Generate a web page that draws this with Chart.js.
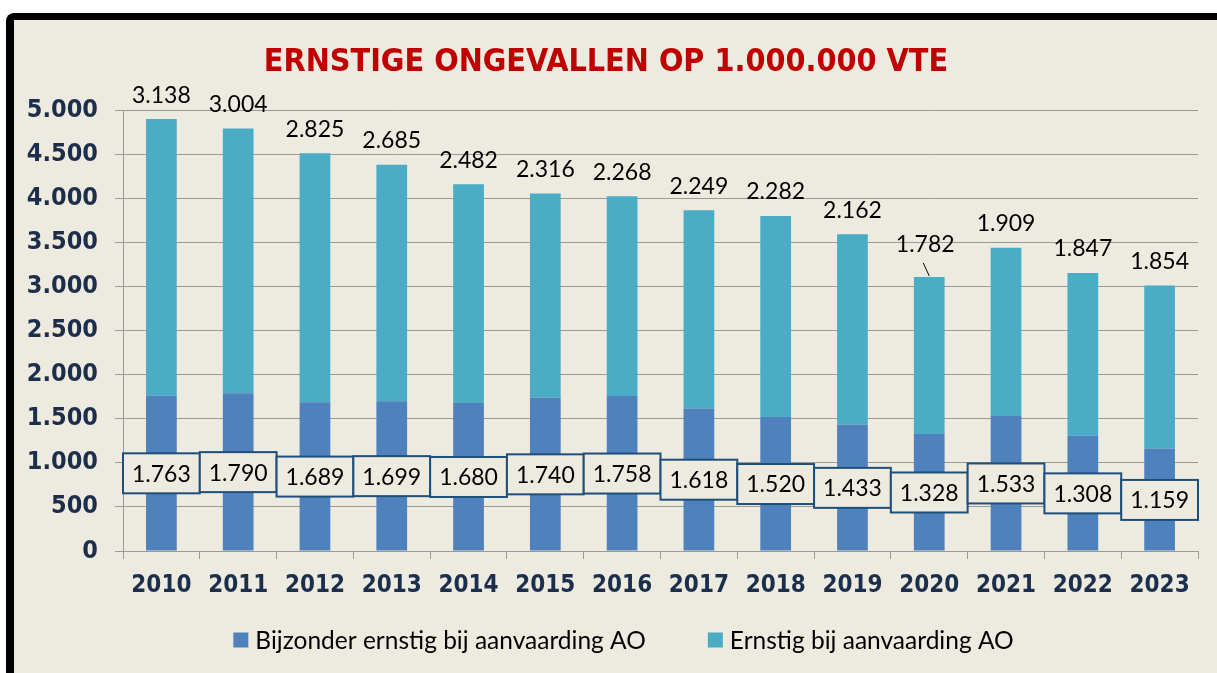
<!DOCTYPE html>
<html>
<head>
<meta charset="utf-8">
<script src="https://cdn.jsdelivr.net/npm/chart.js@4.4.1/dist/chart.umd.min.js"></script>
<style>
  html, body { margin: 0; padding: 0; background: #fff; }
  #frame {
    position: absolute; left: 6px; top: 13px;
    width: 1203px; height: 653px;
    border-top: 7px solid #000; border-left: 8px solid #000;
    border-top-left-radius: 8px;
    background: #EDEAE0;
  }
  #chart { display: block; }
</style>
</head>
<body>
<div id="frame"><canvas id="chart" width="1203" height="653"></canvas></div>
<script>
// data
const years = ['2010', '2011', '2012', '2013', '2014', '2015', '2016', '2017', '2018', '2019', '2020', '2021', '2022', '2023'];
const bijzonderErnstig = [1763, 1790, 1689, 1699, 1680, 1740, 1758, 1618, 1520, 1433, 1328, 1533, 1308, 1159];
const ernstig = [3138, 3004, 2825, 2685, 2482, 2316, 2268, 2249, 2282, 2162, 1782, 1909, 1847, 1854];
const yTicks = [0, 500, 1000, 1500, 2000, 2500, 3000, 3500, 4000, 4500, 5000];

const BG = '#EDEAE0';
const NAVY = '#1B2F4D';
const AXIS_FONT = "'DejaVu Sans Condensed', 'DejaVu Sans'";

function fmt(v) {
    return String(v).replace(/\B(?=(\d{3})+(?!\d))/g, '.');
}

const valueLabels = {
    id: 'valueLabels',
    afterDatasetsDraw(chart) {
        const c = chart.ctx;
        const yScale = chart.scales.y;
        const xScale = chart.scales.x;
        const catW = xScale.width / years.length;
        c.save();
        c.font = '23px Lato';
        c.textAlign = 'center';
        c.textBaseline = 'middle';

        // boxed labels for the bottom series, centred in the bar
        chart.getDatasetMeta(0).data.forEach((bar, i) => {
            const v = bijzonderErnstig[i];
            const yc = yScale.getPixelForValue(v / 2);
            const w = catW, h = 40;
            c.fillStyle = BG;
            c.fillRect(bar.x - w / 2, yc - h / 2, w, h);
            c.strokeStyle = '#1F4E79';
            c.lineWidth = 2;
            c.strokeRect(bar.x - w / 2, yc - h / 2, w, h);
            c.fillStyle = '#000';
            c.fillText(fmt(v), bar.x, yc + 1);
        });

        // plain labels above the stacked bars
        chart.getDatasetMeta(1).data.forEach((bar, i) => {
            c.fillStyle = '#000';
            if (years[i] === '2020') {
                // this one was dragged up in the original, with a leader line
                c.strokeStyle = '#000';
                c.lineWidth = 1;
                c.beginPath();
                c.moveTo(bar.x, bar.y - 1);
                c.lineTo(bar.x - 6, bar.y - 14);
                c.stroke();
                c.fillText(fmt(ernstig[i]), bar.x - 4, bar.y - 32);
            } else {
                c.fillText(fmt(ernstig[i]), bar.x, bar.y - 24);
            }
        });
        c.restore();
    }
};

// legend drawn by hand so the gap between the two entries can be wide
const bottomLegend = {
    id: 'bottomLegend',
    afterDraw(chart) {
        const c = chart.ctx;
        const items = chart.data.datasets.map(ds => ({ text: ds.label, color: ds.backgroundColor }));
        const box = 15, gapText = 7, gapItem = 62;
        c.save();
        c.font = '24.5px Lato';
        c.textBaseline = 'middle';
        const widths = items.map(it => box + gapText + c.measureText(it.text).width);
        const total = widths.reduce((a, b) => a + b, 0) + gapItem * (items.length - 1);
        let x = chart.width / 2 + 8 - total / 2;
        const y = chart.height - 33;
        items.forEach((it, i) => {
            c.fillStyle = it.color;
            c.fillRect(x, y - box / 2, box, box);
            c.fillStyle = '#000';
            c.fillText(it.text, x + box + gapText, y + 1);
            x += widths[i] + gapItem;
        });
        c.restore();
    }
};

const ctx = document.getElementById('chart').getContext('2d');

new Chart(ctx, {
    type: 'bar',
    data: {
        labels: years,
        datasets: [{
            label: 'Bijzonder ernstig bij aanvaarding AO',
            data: bijzonderErnstig,
            backgroundColor: '#4F81BD'
        }, {
            label: 'Ernstig bij aanvaarding AO',
            data: ernstig,
            backgroundColor: '#4BACC6'
        }]
    },
    options: {
        responsive: false,
        animation: false,
        layout: { padding: { left: 0, right: 19, bottom: 55 } },
        datasets: { bar: { categoryPercentage: 1, barPercentage: 0.4 } },
        scales: {
            x: {
                stacked: true,
                afterFit: s => { s.height = 67; },
                grid: { drawOnChartArea: false, drawTicks: true, tickLength: 8, color: '#999' },
                border: { color: '#999' },
                ticks: {
                    padding: 12,
                    color: NAVY,
                    font: { family: AXIS_FONT, size: 24, weight: 'bold' }
                }
            },
            y: {
                stacked: true,
                min: 0,
                max: 5000,
                afterFit: s => { s.width = 109; },
                afterBuildTicks: s => { s.ticks = yTicks.map(v => ({ value: v })); },
                grid: { color: '#9A9A9A', tickLength: 8 },
                border: { color: '#999' },
                ticks: {
                    padding: 17,
                    color: NAVY,
                    font: { family: AXIS_FONT, size: 25, weight: 'bold' },
                    callback: v => fmt(v)
                }
            }
        },
        plugins: {
            tooltip: { enabled: false },
            legend: { display: false },
            title: {
                display: true,
                text: 'ERNSTIGE ONGEVALLEN OP 1.000.000 VTE',
                color: '#C00000',
                font: { family: AXIS_FONT, size: 32, weight: 'bold' },
                padding: { top: 23, bottom: 29 }
            }
        }
    },
    plugins: [valueLabels, bottomLegend]
});
</script>
</body>
</html>
